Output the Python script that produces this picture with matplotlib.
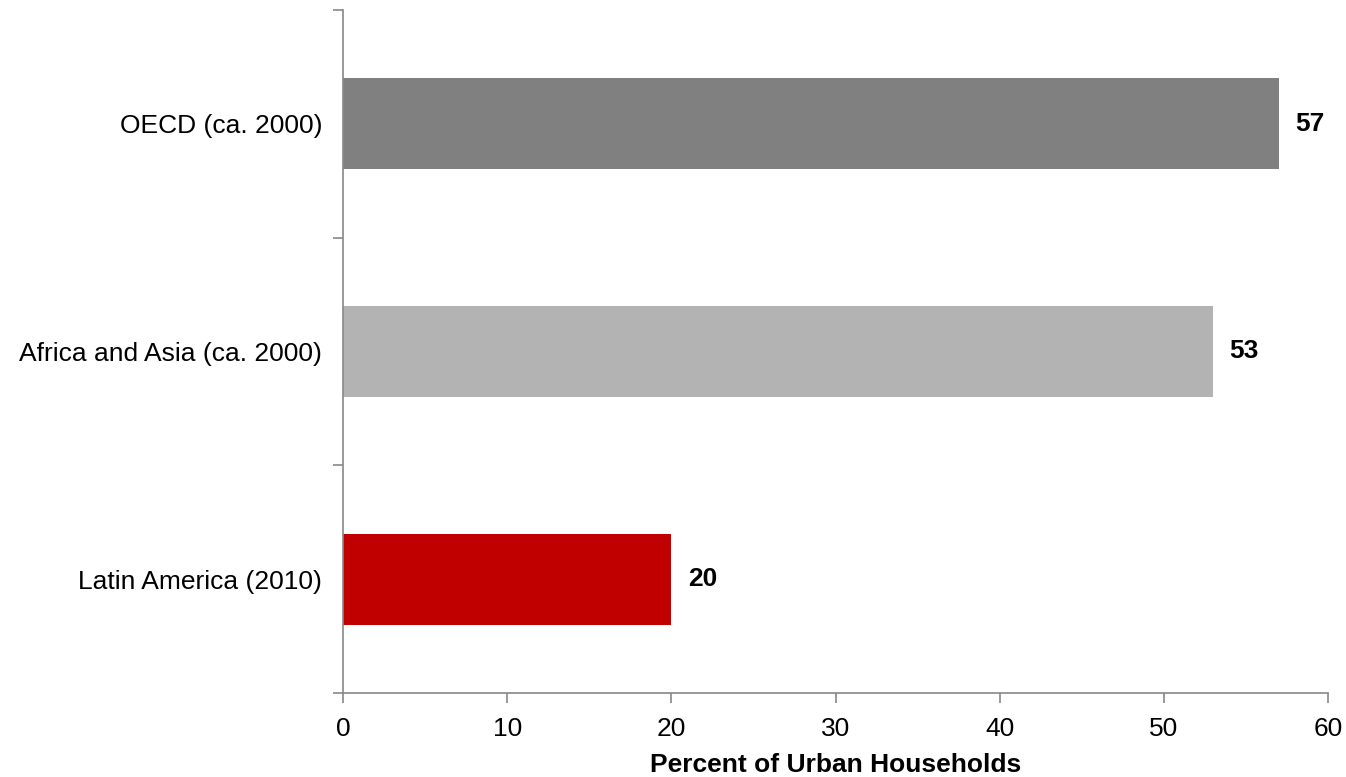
import matplotlib
matplotlib.use('Agg')
import matplotlib.pyplot as plt

plt.rcParams['font.family'] = ['Liberation Sans', 'DejaVu Sans']

# datos (de abajo hacia arriba)
regiones = ['Latin America (2010)', 'Africa and Asia (ca. 2000)', 'OECD (ca. 2000)']
valores = [20, 53, 57]
colores = ['#c00000', '#b3b3b3', '#808080']
xticks = [0, 10, 20, 30, 40, 50, 60]

fig = plt.figure(figsize=(13.46, 7.77), dpi=100)
ax = fig.add_axes([343/1346, 1-693/777, (1328-343)/1346, (693-10)/777])

pos = list(range(len(regiones)))
ax.barh(pos, valores, height=0.4, color=colores)

for p, v in zip(pos, valores):
    ax.text(v + 1.0, p, str(v), va='center', ha='left',
            fontsize=19, fontweight='bold')

ax.set_xlim(0, 60)
ax.set_ylim(-0.5, len(regiones) - 0.5)
ax.set_xticks(xticks)
ax.set_xticklabels([str(t) for t in xticks], fontsize=19)

# marcas del eje y en los limites de categoria, etiquetas en el centro
ax.set_yticks([p - 0.5 for p in pos] + [pos[-1] + 0.5])
ax.set_yticklabels([])
ax.set_yticks(pos, minor=True)
ax.set_yticklabels(regiones, minor=True, fontsize=19)
ax.tick_params(axis='y', which='minor', length=0, pad=15)
ax.tick_params(axis='y', which='major', length=7, width=1.2, color='#888888')
ax.tick_params(axis='x', length=7, width=1.2, color='#888888', pad=10)

for s in ['top', 'right']:
    ax.spines[s].set_visible(False)
for s in ['left', 'bottom']:
    ax.spines[s].set_color('#888888')
    ax.spines[s].set_linewidth(1.2)

ax.set_xlabel('Percent of Urban Households', fontsize=19, fontweight='bold', labelpad=9)

fig.savefig('out.png', dpi=100)
